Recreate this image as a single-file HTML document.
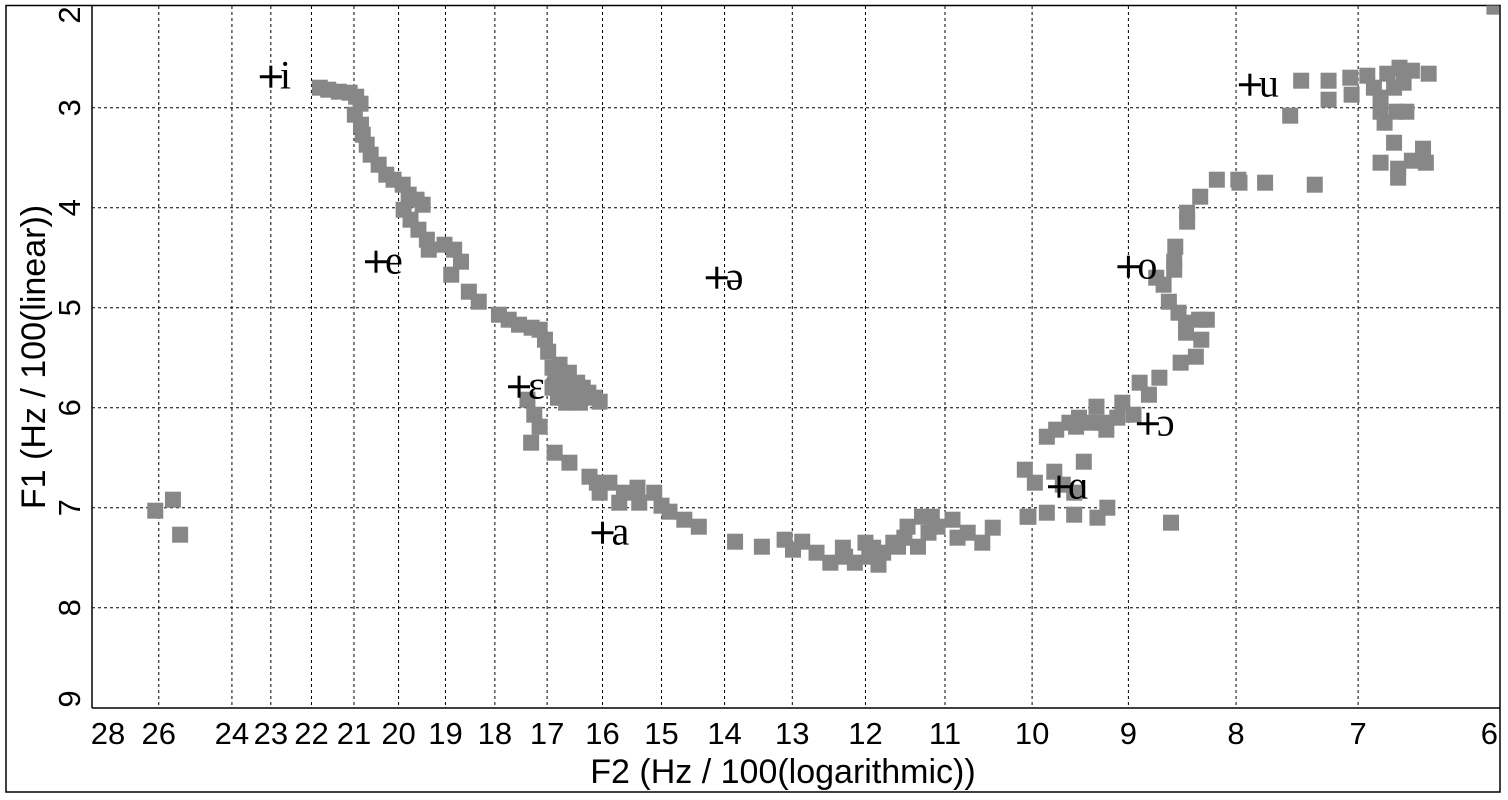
<!DOCTYPE html>
<html><head><meta charset="utf-8"><title>Vowel formant chart</title>
<style>
html,body{margin:0;padding:0;background:#fff;}
svg{display:block;}
text{font-family:"Liberation Sans",Arial,sans-serif;fill:#000;}
.vl{font-family:"Liberation Serif","Times New Roman",serif;font-size:40px;}
</style></head>
<body>
<svg id="chart" width="1508" height="800" viewBox="0 0 1508 800" xmlns="http://www.w3.org/2000/svg">
<rect x="6" y="5.5" width="1494" height="786.5" fill="#fff" stroke="#000" stroke-width="1.5"/>
<defs><clipPath id="pc"><rect x="92" y="5.5" width="1407" height="702.5"/></clipPath></defs>
<g id="grid"></g>
<g id="marks" clip-path="url(#pc)"></g>
<g id="vowels"></g>
<line x1="92" y1="5.5" x2="92" y2="708" stroke="#000" stroke-width="1.5"/>
<line x1="92" y1="708" x2="1500" y2="708" stroke="#000" stroke-width="1.5"/>
<g id="xticks"></g>
<g id="yticks"></g>
<text x="783" y="783" font-size="34" text-anchor="middle">F2 (Hz / 100(logarithmic))</text>
<text x="0" y="0" font-size="34" text-anchor="middle" transform="translate(45,357) rotate(-90)">F1 (Hz / 100(linear))</text>
</svg>
<script>
const xTicks = [28, 26, 24, 23, 22, 21, 20, 19, 18, 17, 16, 15, 14, 13, 12, 11, 10, 9, 8, 7, 6];
const yTicks = [2, 3, 4, 5, 6, 7, 8, 9];
const f2 = [
21.8,21.6,21.35,21.1,20.95,20.85,
20.98,20.84,20.8,20.71,20.62,20.44,20.27,20.11,19.91,19.78,19.61,19.48,19.89,19.74,19.57,19.39,19.35,19.02,18.82,18.68,18.88,18.52,18.32,17.92,17.73,17.53,17.29,17.14,17.04,16.98,16.77,16.63,16.5,16.32,16.14,16.05,16.5,16.68,16.9,16.7,16.4,16.8,
16.85,16.75,16.6,16.55,16.45,16.35,16.25,16.9,16.65,
17.37,17.24,17.14,17.3,16.86,16.59,16.23,16.05,15.88,15.63,15.37,15.12,15.71,15.4,16.1,14.87,14.63,14.4,15.0,13.84,13.44,13.11,12.99,12.86,12.66,12.47,12.27,12.14,11.95,11.77,11.58,11.83,11.64,11.46,11.28,11.16,11.33,11.09,10.91,10.73,10.56,10.44,10.85,10.05,11.9,12.0,11.5,11.2,12.3,
10.08,9.97,9.76,9.45,9.67,9.55,9.55,10.04,9.84,9.31,9.21,8.59,
9.06,9.32,8.95,9.11,9.26,9.4,9.5,9.6,9.74,9.84,9.53,9.22,
8.89,8.8,8.7,8.5,8.36,8.45,8.33,8.26,8.45,8.31,8.52,8.61,8.73,8.66,8.56,8.56,8.55,8.44,8.44,8.32,8.17,7.98,
7.45,7.23,7.23,7.06,7.05,6.93,6.88,6.83,6.78,6.69,6.6,6.48,6.66,6.73,6.83,6.71,6.64,6.8,7.54,6.73,6.52,6.83,6.7,6.7,6.6,6.5,7.97,7.75,7.34,6.03,
26.1,25.6,25.4
];
const f1 = [
2.80,2.82,2.84,2.85,2.89,2.96,
3.07,3.17,3.27,3.37,3.47,3.57,3.67,3.72,3.77,3.87,3.92,3.97,4.02,4.12,4.22,4.32,4.42,4.37,4.42,4.54,4.67,4.84,4.94,5.07,5.12,5.17,5.2,5.22,5.32,5.44,5.57,5.72,5.82,5.87,5.9,5.94,5.92,5.87,5.6,5.75,5.95,5.9,
5.7,5.8,5.65,5.85,5.75,5.8,5.85,5.8,5.95,
5.92,6.07,6.19,6.35,6.45,6.55,6.69,6.85,6.75,6.85,6.95,6.85,6.95,6.80,6.75,7.04,7.12,7.19,6.98,7.34,7.39,7.32,7.42,7.34,7.45,7.55,7.49,7.55,7.49,7.45,7.39,7.57,7.35,7.19,7.09,7.09,7.39,7.19,7.12,7.25,7.35,7.2,7.3,7.09,7.4,7.35,7.3,7.25,7.4,
6.62,6.75,6.64,6.54,6.77,6.85,7.07,7.09,7.05,7.1,7.0,7.15,
5.95,5.99,6.07,6.1,6.15,6.15,6.1,6.15,6.22,6.29,6.19,6.22,
5.75,5.87,5.7,5.55,5.49,5.15,5.12,5.12,5.25,5.32,5.05,4.94,4.7,4.77,4.54,4.62,4.39,4.05,4.14,3.89,3.72,3.72,
2.73,2.73,2.92,2.7,2.87,2.68,2.8,2.9,2.66,2.6,2.63,2.66,2.75,2.8,3.04,3.04,3.04,3.15,3.08,3.35,3.41,3.55,3.61,3.7,3.53,3.55,3.75,3.75,3.77,1.99,
7.03,6.92,7.27
];
const vowelSymbols = ["i", "e", "ə", "ɛ", "a", "ɑ", "ɔ", "o", "u"];
const vowelF2 = [23.0, 20.5, 14.12, 17.53, 16.0, 9.71, 8.81, 9.0, 7.88];
const vowelF1 = [2.69, 4.54, 4.70, 5.79, 7.25, 6.79, 6.16, 4.59, 2.77];

const NS = "http://www.w3.org/2000/svg";
function xScale(f) { return 1499 - 914 * Math.log(f / 6); }
function yScale(v) { return 7.7 + 100 * (v - 2); }
function mk(tag, attrs, parent) {
  const el = document.createElementNS(NS, tag);
  for (const k in attrs) el.setAttribute(k, attrs[k]);
  parent.appendChild(el);
  return el;
}
const grid = document.getElementById('grid');
const xt = document.getElementById('xticks');
const yt = document.getElementById('yticks');
xTicks.forEach(function (t) {
  const x = xScale(t);
  if (t !== 28 && t !== 6) {
    const gl = mk('line', {x1: x, y1: 6, x2: x, y2: 708, stroke: '#000', 'stroke-width': 1, 'stroke-dasharray': '3,3'}, grid);
    
    
  }
  let lx = x, anchor = 'middle';
  if (t === 28) { lx = Math.max(x, 108); }
  if (t === 6) { lx = 1498; anchor = 'end'; }
  const tx = mk('text', {x: lx, y: 744, 'font-size': 31, 'text-anchor': anchor}, xt);
  tx.textContent = String(t);
  
  
});
yTicks.forEach(function (t) {
  const y = yScale(t);
  if (t !== 2 && t !== 9) {
    const gl = mk('line', {x1: 92, y1: y, x2: 1499, y2: y, stroke: '#000', 'stroke-width': 1, 'stroke-dasharray': '3,3'}, grid);
    
    
  }
  let ly = y;
  if (t === 2) ly = 15;
  if (t === 9) ly = 699;
  const tx = mk('text', {x: 0, y: 0, 'font-size': 31, 'text-anchor': 'middle', transform: 'translate(80,' + ly + ') rotate(-90)'}, yt);
  tx.textContent = String(t);
  
  
});
const marks = document.getElementById('marks');
for (let i = 0; i < f2.length; i++) {
  const cx = xScale(f2[i]), cy = yScale(f1[i]);
  const r = mk('rect', {x: cx - 8, y: cy - 8, width: 16, height: 16, fill: '#878787'}, marks);
  
  
}
const vg = document.getElementById('vowels');
for (let i = 0; i < vowelSymbols.length; i++) {
  const cx = xScale(vowelF2[i]), cy = yScale(vowelF1[i]);
  const g = mk('g', {}, vg);
  
  
  mk('line', {x1: cx - 11, y1: cy, x2: cx + 11, y2: cy, stroke: '#000', 'stroke-width': 3}, g);
  mk('line', {x1: cx, y1: cy - 11, x2: cx, y2: cy + 11, stroke: '#000', 'stroke-width': 3}, g);
  const t = mk('text', {x: cx + 9, y: cy + 12, class: 'vl'}, g);
  t.textContent = vowelSymbols[i];
}
</script>
</body></html>
